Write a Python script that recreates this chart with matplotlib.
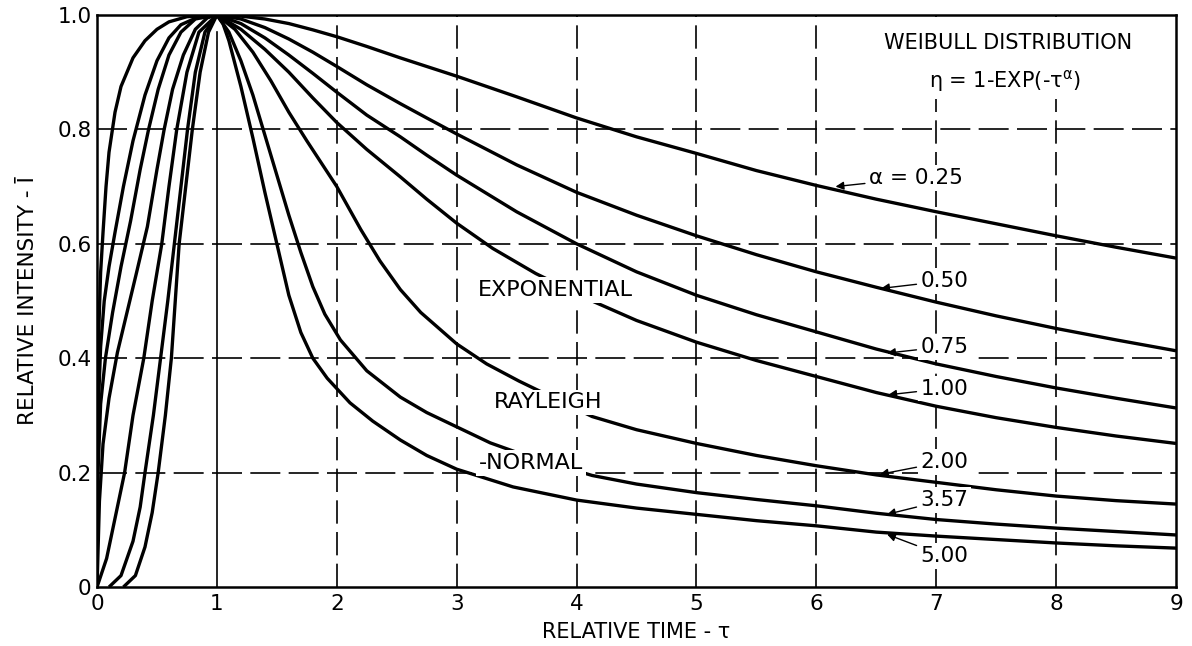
import matplotlib
matplotlib.use("Agg")
import matplotlib.pyplot as plt

plt.rcParams['font.family'] = ['DejaVu Sans']

# ---- data (relative time tau, relative intensity I) ----
tau_a025 = [0, 0.003, 0.008, 0.015, 0.03, 0.05, 0.075, 0.10, 0.15, 0.20, 0.30, 0.40, 0.50, 0.60,
            0.75, 1.0, 1.2, 1.4, 1.6, 1.8, 2.0, 2.25, 2.53, 2.75, 3.0, 3.5, 4.0, 4.5, 5.0, 5.5,
            6.0, 6.5, 7.0, 7.5, 8.0, 8.5, 9.0]
I_a025 = [0, 0.20, 0.35, 0.45, 0.55, 0.62, 0.70, 0.76, 0.83, 0.875, 0.925, 0.955, 0.975, 0.988,
          0.997, 1.0, 0.998, 0.993, 0.985, 0.974, 0.962, 0.945, 0.925, 0.91, 0.893, 0.857, 0.82,
          0.787, 0.758, 0.728, 0.702, 0.678, 0.656, 0.635, 0.614, 0.594, 0.575]

tau_a050 = [0, 0.005, 0.012, 0.03, 0.06, 0.10, 0.15, 0.22, 0.30, 0.40, 0.50, 0.60, 0.70, 0.85,
            1.0, 1.2, 1.4, 1.6, 1.8, 2.0, 2.25, 2.53, 2.75, 3.0, 3.5, 4.0, 4.5, 5.0, 5.5, 6.0,
            6.5, 7.0, 7.5, 8.0, 8.5, 9.0]
I_a050 = [0, 0.20, 0.32, 0.42, 0.50, 0.56, 0.62, 0.70, 0.78, 0.86, 0.92, 0.96, 0.983, 0.997,
          1.0, 0.993, 0.978, 0.958, 0.935, 0.91, 0.878, 0.845, 0.82, 0.792, 0.738, 0.69, 0.65,
          0.614, 0.581, 0.551, 0.524, 0.498, 0.474, 0.452, 0.432, 0.413]

tau_a075 = [0, 0.008, 0.03, 0.07, 0.13, 0.20, 0.28, 0.36, 0.43, 0.51, 0.60, 0.70, 0.82, 1.0,
            1.2, 1.4, 1.6, 1.8, 2.0, 2.25, 2.53, 2.75, 3.0, 3.5, 4.0, 4.5, 5.0, 5.5, 6.0,
            6.5, 7.0, 7.5, 8.0, 8.5, 9.0]
I_a075 = [0, 0.20, 0.32, 0.40, 0.48, 0.56, 0.64, 0.73, 0.80, 0.87, 0.93, 0.97, 0.993, 1.0,
          0.985, 0.96, 0.93, 0.898, 0.865, 0.825, 0.787, 0.755, 0.72, 0.656, 0.60, 0.551, 0.51,
          0.476, 0.446, 0.416, 0.39, 0.368, 0.348, 0.33, 0.313]

tau_a100 = [0, 0.02, 0.05, 0.10, 0.17, 0.25, 0.33, 0.42, 0.50, 0.56, 0.63, 0.72, 0.82, 0.92, 1.0,
            1.2, 1.4, 1.6, 1.8, 2.0, 2.25, 2.53, 2.75, 3.0, 3.3, 3.66, 4.13, 4.5, 5.0, 5.5,
            6.0, 6.5, 7.0, 7.5, 8.0, 8.5, 9.0]
I_a100 = [0, 0.15, 0.25, 0.33, 0.41, 0.48, 0.55, 0.63, 0.73, 0.80, 0.87, 0.93, 0.975, 0.995, 1.0,
          0.975, 0.94, 0.90, 0.855, 0.812, 0.765, 0.717, 0.678, 0.636, 0.592, 0.548, 0.50, 0.466,
          0.428, 0.396, 0.368, 0.34, 0.316, 0.296, 0.279, 0.264, 0.251]

tau_a200 = [0, 0.08, 0.16, 0.23, 0.30, 0.39, 0.46, 0.54, 0.60, 0.665, 0.75, 0.85, 1.0,
            1.15, 1.3, 1.45, 1.6, 1.75, 2.0, 2.2, 2.36, 2.53, 2.7, 3.0, 3.25, 3.52, 4.13,
            4.5, 5.0, 5.5, 6.0, 6.5, 7.0, 7.5, 8.0, 8.5, 9.0]
I_a200 = [0, 0.05, 0.13, 0.20, 0.30, 0.40, 0.50, 0.60, 0.70, 0.80, 0.90, 0.97, 1.0,
          0.975, 0.935, 0.885, 0.83, 0.78, 0.70, 0.625, 0.57, 0.52, 0.48, 0.425, 0.39, 0.36,
          0.298, 0.275, 0.251, 0.23, 0.212, 0.196, 0.183, 0.17, 0.159, 0.151, 0.145]

tau_a357 = [0.10, 0.20, 0.30, 0.36, 0.40, 0.47, 0.53, 0.59, 0.645, 0.70, 0.755, 0.82, 0.90, 1.0,
            1.1, 1.2, 1.3, 1.4, 1.5, 1.6, 1.7, 1.8, 1.9, 2.03, 2.25, 2.53, 2.75, 3.0, 3.28,
            3.6, 4.13, 4.5, 5.0, 5.5, 6.0, 6.5, 7.0, 7.5, 8.0, 8.5, 9.0]
I_a357 = [0, 0.02, 0.08, 0.14, 0.20, 0.30, 0.40, 0.50, 0.60, 0.70, 0.80, 0.90, 0.97, 1.0,
          0.97, 0.92, 0.86, 0.79, 0.72, 0.65, 0.585, 0.525, 0.477, 0.432, 0.378, 0.332, 0.305,
          0.28, 0.252, 0.228, 0.195, 0.18, 0.165, 0.153, 0.142, 0.129, 0.118, 0.11, 0.103,
          0.097, 0.091]

tau_a500 = [0.22, 0.32, 0.40, 0.46, 0.51, 0.57, 0.62, 0.685, 0.74, 0.795, 0.86, 0.93, 1.0,
            1.05, 1.1, 1.2, 1.3, 1.4, 1.5, 1.6, 1.7, 1.8, 1.92, 2.11, 2.3, 2.53, 2.75, 3.0,
            3.47, 4.0, 4.5, 5.0, 5.5, 6.0, 6.5, 7.0, 7.5, 8.0, 8.5, 9.0]
I_a500 = [0, 0.02, 0.07, 0.13, 0.20, 0.30, 0.40, 0.60, 0.70, 0.80, 0.90, 0.97, 1.0,
          0.985, 0.955, 0.875, 0.785, 0.69, 0.60, 0.51, 0.445, 0.40, 0.365, 0.322, 0.29, 0.257,
          0.23, 0.206, 0.175, 0.152, 0.138, 0.127, 0.116, 0.107, 0.096, 0.089, 0.083, 0.077,
          0.072, 0.068]

x_ticks = [0, 1, 2, 3, 4, 5, 6, 7, 8, 9]
x_ticklabels = ["0", "1", "2", "3", "4", "5", "6", "7", "8", "9"]
y_ticks = [0, 0.2, 0.4, 0.6, 0.8, 1.0]
y_ticklabels = ["0", "0.2", "0.4", "0.6", "0.8", "1.0"]

lab_text = ["α = 0.25", "0.50", "0.75", "1.00", "2.00", "3.57", "5.00"]

curves = [(tau_a025, I_a025), (tau_a050, I_a050), (tau_a075, I_a075), (tau_a100, I_a100),
          (tau_a200, I_a200), (tau_a357, I_a357), (tau_a500, I_a500)]

# ---- figure ----
fig = plt.figure(figsize=(11.92, 6.46), dpi=100)
ax = fig.add_axes([0.0814, 0.0913, 0.9052, 0.8855])
ax.set_xlim(0, 9)
ax.set_ylim(0, 1.0)

# grid
for xv in x_ticks[1:-1]:
    if xv == 1:
        ax.plot([xv, xv], [0, 0.97], color='black', lw=1.2, zorder=1)
    else:
        ax.axvline(xv, color='black', lw=1.2, ls=(0, (14, 5)), zorder=1)
for yv in y_ticks[1:-1]:
    ax.axhline(yv, color='black', lw=1.2, ls=(0, (18, 5)), zorder=1)

for tx, iy in curves:
    ax.plot(tx, iy, color='black', lw=2.4, solid_capstyle='butt', solid_joinstyle='round',
            zorder=2)

for s in ax.spines.values():
    s.set_linewidth(1.8)

ax.set_xticks(x_ticks)
ax.set_xticklabels(x_ticklabels)
ax.set_yticks(y_ticks)
ax.set_yticklabels(y_ticklabels)
ax.tick_params(axis='both', length=0, labelsize=15.5)
ax.tick_params(axis='x', pad=5)
ax.tick_params(axis='y', pad=4)

ax.set_xlabel("RELATIVE TIME - τ", fontsize=15, labelpad=6)
ax.set_ylabel("RELATIVE INTENSITY - Ī", fontsize=15.5, labelpad=14)

box = dict(facecolor='white', edgecolor='none', pad=2)

ax.text(7.6, 0.951, "WEIBULL DISTRIBUTION", ha='center', va='center', fontsize=15,
        bbox=dict(facecolor='white', edgecolor='none', pad=7), zorder=4)
ax.text(7.57, 0.885, r"η = 1-EXP(-τ$^{\mathsf{α}}$)", ha='center', va='center', fontsize=15,
        bbox=dict(facecolor='white', edgecolor='none', pad=4), zorder=4)

# curve labels with arrows
lab_x = [6.44, 6.87, 6.87, 6.87, 6.87, 6.87, 6.87]
lab_y = [0.715, 0.535, 0.42, 0.347, 0.219, 0.152, 0.054]
tip_x = [6.16, 6.54, 6.59, 6.6, 6.53, 6.59, 6.59]
tip_y = [0.700, 0.522, 0.409, 0.336, 0.197, 0.127, 0.092]
for t, lx, ly, px, py in zip(lab_text, lab_x, lab_y, tip_x, tip_y):
    ax.annotate(t, xy=(px, py), xytext=(lx, ly), ha='left', va='center', fontsize=15.5,
                arrowprops=dict(arrowstyle='-|>', color='black', lw=1.0, mutation_scale=12,
                                shrinkA=1, shrinkB=0),
                bbox=box, zorder=4)

ax.text(3.82, 0.519, "EXPONENTIAL", ha='center', va='center', fontsize=16, bbox=box, zorder=4)
ax.text(3.76, 0.323, "RAYLEIGH", ha='center', va='center', fontsize=16, bbox=box, zorder=4)
ax.text(3.62, 0.217, "-NORMAL", ha='center', va='center', fontsize=16, bbox=box, zorder=4)

fig.savefig("out.png", dpi=100)
